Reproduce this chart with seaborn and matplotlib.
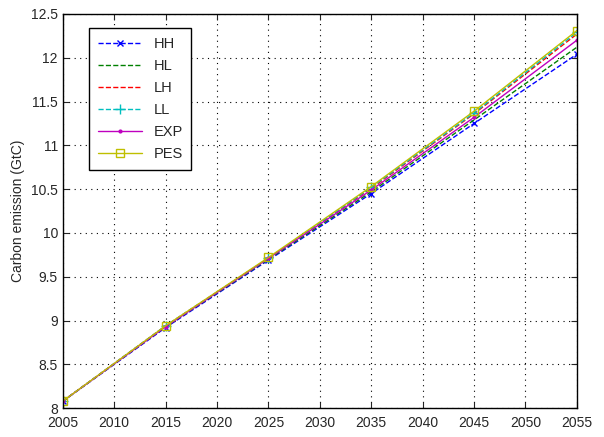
import numpy as np
import pandas as pd
import matplotlib
matplotlib.use("Agg")
import matplotlib.pyplot as plt
import seaborn as sns

# values (markers every 10 years)
years = [2005, 2015, 2025, 2035, 2045, 2055]
hh = [8.08, 8.92, 9.69, 10.45, 11.25, 12.04]
hl = [8.08, 8.93, 9.70, 10.47, 11.29, 12.12]
lh = [8.08, 8.94, 9.71, 10.51, 11.36, 12.27]
ll = [8.08, 8.94, 9.71, 10.52, 11.37, 12.29]
exp_ = [8.08, 8.93, 9.71, 10.49, 11.32, 12.20]
pes = [8.08, 8.94, 9.72, 10.53, 11.39, 12.31]

series = ["HH", "HL", "LH", "LL", "EXP", "PES"]
values = [hh, hl, lh, ll, exp_, pes]
colors = ["#0000ff", "#008000", "#ff0000", "#00bfbf", "#bf00bf", "#bfbf00"]
styles = ["--", "--", "--", "--", "-", "-"]
markers = ["x", None, None, "+", ".", "s"]
msizes = [5, 0, 0, 7, 4, 6]

sns.set_style("ticks")
plt.rcParams["font.family"] = ["Liberation Sans", "DejaVu Sans"]

fig = plt.figure(figsize=(6.04, 4.37), dpi=100)
ax = fig.add_axes([0.104, 0.066, 0.851, 0.902])

for name, v, c, ls, m, ms in zip(series, values, colors, styles, markers, msizes):
    df = pd.DataFrame({"year": years, "val": v})
    sns.lineplot(data=df, x="year", y="val", ax=ax, color=c, linestyle=ls,
                 marker=m, markersize=ms, linewidth=1,
                 markerfacecolor="none" if m == "s" else c,
                 markeredgecolor=c, markeredgewidth=1, label=name)

ax.set_xlim(2005, 2055)
ax.set_ylim(8, 12.5)
ax.set_xticks(np.arange(2005, 2056, 5))
ax.set_yticks(np.arange(8, 12.51, 0.5))
ax.set_yticklabels(["8", "8.5", "9", "9.5", "10", "10.5", "11", "11.5", "12", "12.5"])
ax.grid(True, color="black", linestyle=(0, (1, 4)), linewidth=0.8)
ax.tick_params(direction="in", labelsize=10, length=4, top=True, right=True)
ax.tick_params(axis="x", pad=6)
for s in ax.spines.values():
    s.set_linewidth(1)
    s.set_color("black")
ax.set_xlabel("")
ax.set_ylabel("Carbon emission (GtC)", fontsize=10)

leg = ax.legend(loc="upper left", bbox_to_anchor=(0.037, 0.983), fontsize=10.5,
                fancybox=False, framealpha=1, edgecolor="black",
                handlelength=3, labelspacing=0.55, borderpad=0.6)
leg.get_frame().set_linewidth(1)

fig.savefig("out.png", dpi=100)
